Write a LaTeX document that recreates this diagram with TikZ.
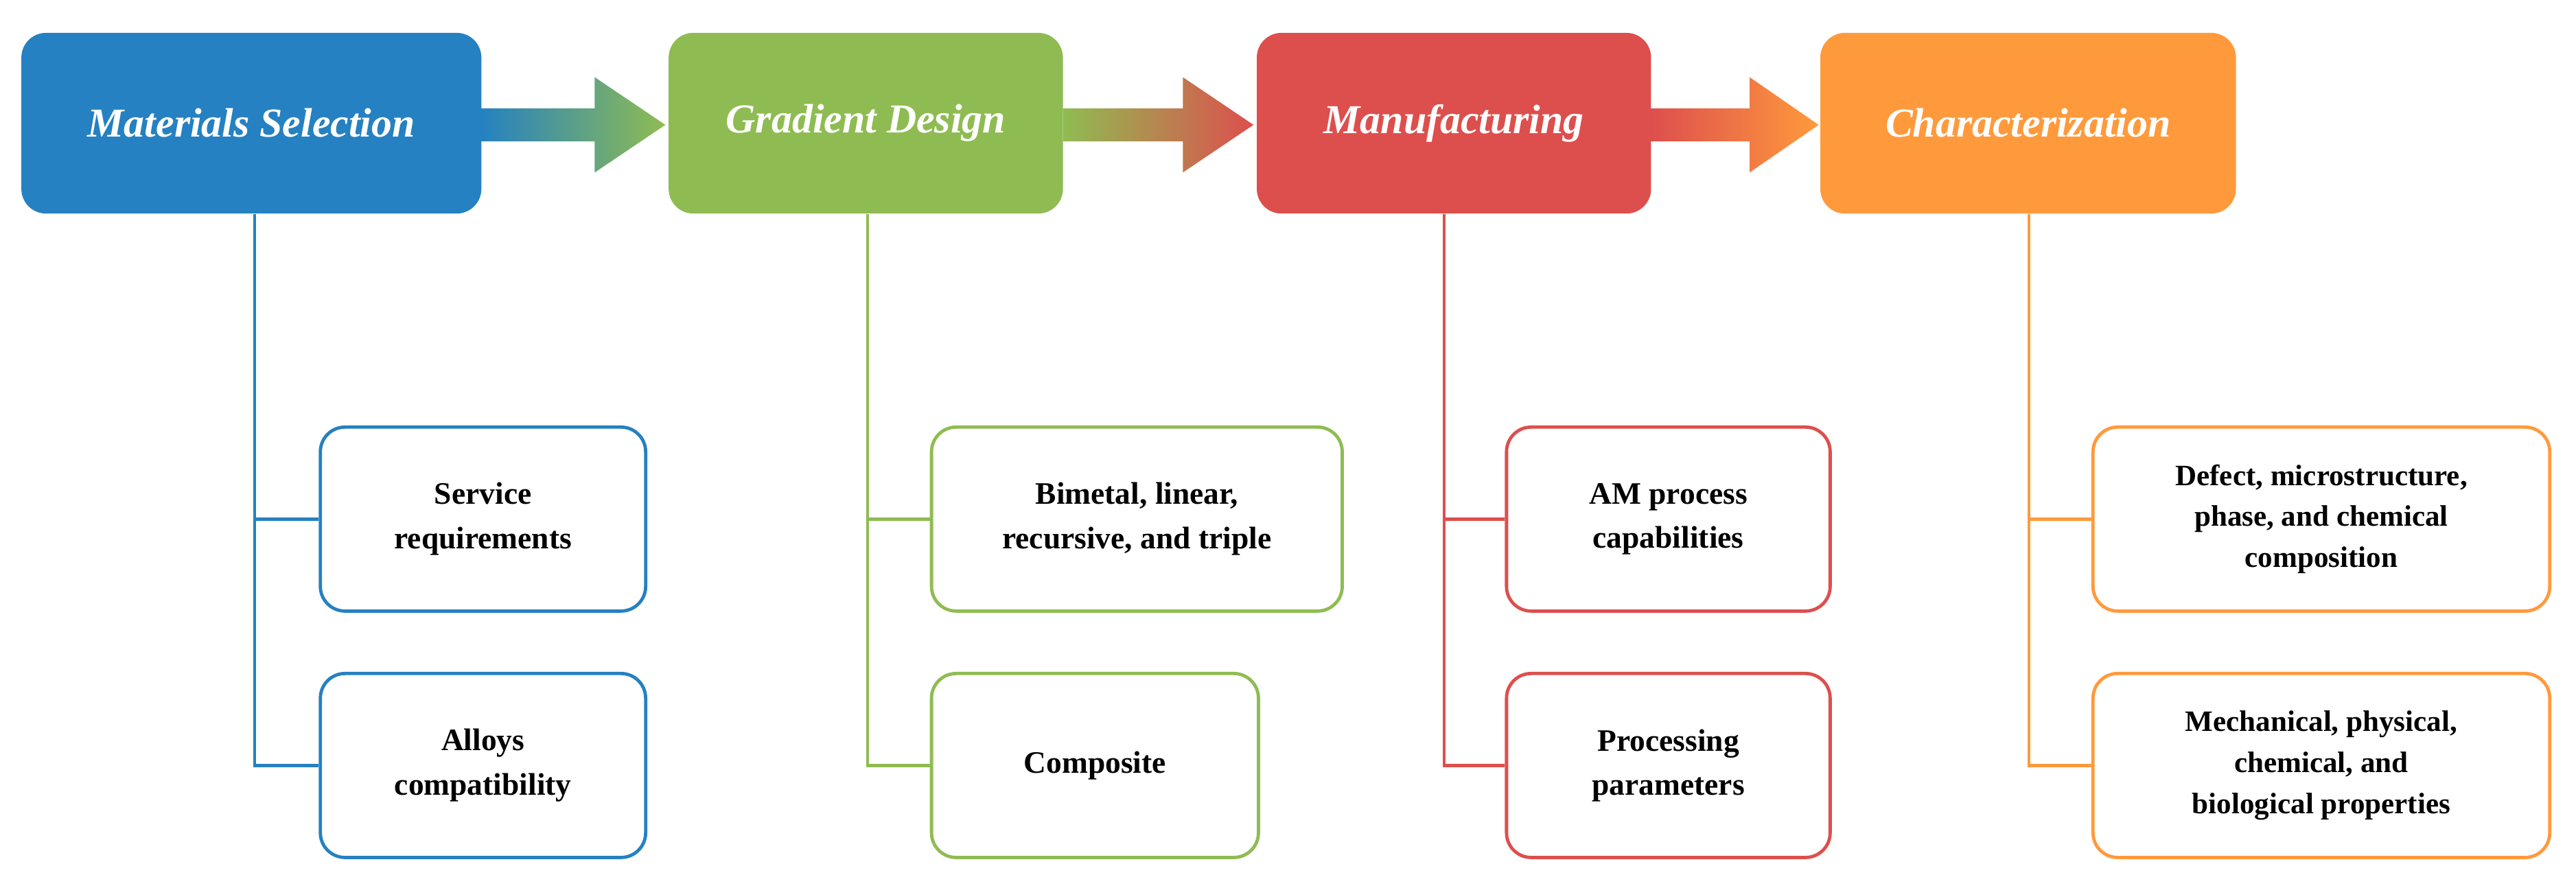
\documentclass[tikz,border=0pt]{standalone}
\usepackage{fontspec}
\setmainfont{Liberation Serif}
\definecolor{cb}{HTML}{2581C1}
\definecolor{cg}{HTML}{8FBC52}
\definecolor{cr}{HTML}{DD4F4D}
\definecolor{co}{HTML}{FF9A3C}
\begin{document}
\begin{tikzpicture}[x=1pt,y=-1pt,
 head/.style={rounded corners=15pt,draw=none,minimum height=110pt,text=white,font=\fontsize{25}{30}\selectfont\bfseries\itshape},
 sub/.style={rounded corners=15pt,draw=#1,line width=2pt,fill=white,minimum height=112pt,align=center,font=\fontsize{19}{27}\selectfont\bfseries},
 ln/.style={draw=#1,line width=1.8pt}]
\useasboundingbox (0,0) rectangle (1568,539);
% headers
\node[head,fill=cb,minimum width=280pt] (h1) at (153,75) {Materials Selection};
\node[head,fill=cg,minimum width=240pt] (h2) at (527,75) {Gradient Design};
\node[head,fill=cr,minimum width=240pt] (h3) at (885,75) {Manufacturing};
\node[head,fill=co,minimum width=253pt] (h4) at (1234.5,75) {Characterization};
% arrows
\shade[left color=cb,middle color=cb!50!white,right color=cg] (293,66) -- (362,66) -- (362,47) -- (405,76) -- (362,105) -- (362,86) -- (293,86) -- cycle;
\shade[left color=cg,middle color=cg!50!white,right color=cr] (647,66) -- (720,66) -- (720,47) -- (763,76) -- (720,105) -- (720,86) -- (647,86) -- cycle;
\shade[left color=cr,middle color=cr!50!white,right color=co] (1005,66) -- (1065,66) -- (1065,47) -- (1107,76) -- (1065,105) -- (1065,86) -- (1005,86) -- cycle;
% sub boxes
\node[sub=cb,minimum width=198pt] (a1) at (294,316) {Service\\requirements};
\node[sub=cb,minimum width=198pt] (a2) at (294,466) {Alloys\\compatibility};
\node[sub=cg,minimum width=250pt] (b1) at (692,316) {Bimetal, linear,\\recursive, and triple};
\node[sub=cg,minimum width=199pt] (b2) at (666.5,466) {Composite};
\node[sub=cr,minimum width=197pt] (c1) at (1015.5,316) {AM process\\capabilities};
\node[sub=cr,minimum width=197pt] (c2) at (1015.5,466) {Processing\\parameters};
\node[sub=co,minimum width=278pt,font=\fontsize{18}{25}\selectfont\bfseries] (d1) at (1413,316) {Defect, microstructure,\\phase, and chemical\\composition};
\node[sub=co,minimum width=278pt,font=\fontsize{18}{25}\selectfont\bfseries] (d2) at (1413,466) {Mechanical, physical,\\chemical, and\\biological properties};
% connectors
\coordinate (p1) at (155,316); \coordinate (q1) at (155,466);
\draw[ln=cb] (h1.south -| p1) -- (q1) -- (a2.west); \draw[ln=cb] (p1) -- (a1.west);
\coordinate (p2) at (528,316); \coordinate (q2) at (528,466);
\draw[ln=cg] (h2.south -| p2) -- (q2) -- (b2.west); \draw[ln=cg] (p2) -- (b1.west);
\coordinate (p3) at (879,316); \coordinate (q3) at (879,466);
\draw[ln=cr] (h3.south -| p3) -- (q3) -- (c2.west); \draw[ln=cr] (p3) -- (c1.west);
\coordinate (p4) at (1235,316); \coordinate (q4) at (1235,466);
\draw[ln=co] (h4.south -| p4) -- (q4) -- (d2.west); \draw[ln=co] (p4) -- (d1.west);
\end{tikzpicture}
\end{document}
